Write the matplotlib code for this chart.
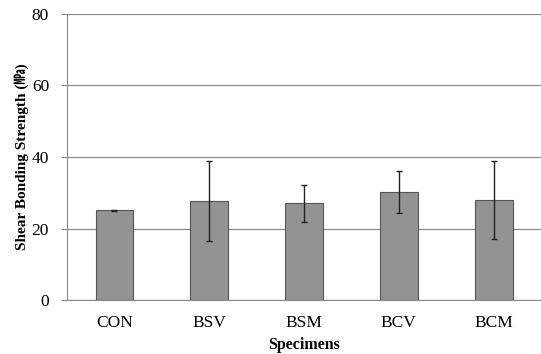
import matplotlib
matplotlib.use("Agg")
import matplotlib.pyplot as plt

specimens = ["CON", "BSV", "BSM", "BCV", "BCM"]
strength = [25.1, 27.7, 27.0, 30.2, 28.0]
err = [0.1, 11.2, 5.2, 6.0, 10.8]

plt.rcParams['font.family'] = ['Liberation Serif', 'Noto Sans CJK KR']

fig = plt.figure(figsize=(5.41, 3.54), dpi=100)
ax = fig.add_axes([0.124, 0.1525, 0.876, 0.808])

ax.bar(range(len(specimens)), strength, width=0.4,
       color='#939393', edgecolor='#555555', linewidth=0.8, zorder=3)
ax.errorbar(range(len(specimens)), strength, yerr=err, fmt='none',
            ecolor='#222222', elinewidth=1.0, capsize=2, capthick=1.0, zorder=4)

ax.set_ylim(0, 80)
ax.set_xlim(-0.5, 4.5)
ax.set_yticks([0, 20, 40, 60, 80])
ax.set_xticks(range(len(specimens)))
ax.set_xticklabels(specimens)
ax.yaxis.grid(True, color='#8a8a8a', linewidth=0.9, zorder=0)
ax.set_axisbelow(True)

for s in ['top', 'right']:
    ax.spines[s].set_visible(False)
ax.spines['left'].set_color('#8a8a8a')
ax.spines['bottom'].set_color('#8a8a8a')
ax.tick_params(axis='x', length=0, labelsize=12.5, pad=11)
ax.tick_params(axis='y', length=4, color='#8a8a8a', labelsize=12.5, pad=9)

ax.set_xlabel('Specimens', fontsize=11.5, fontweight='bold', labelpad=4)
ax.set_ylabel('Shear Bonding Strength (㎫)', fontsize=11, fontweight='bold')
ax.yaxis.set_label_coords(-0.08, 0.5)

fig.savefig('out.png', dpi=100)
